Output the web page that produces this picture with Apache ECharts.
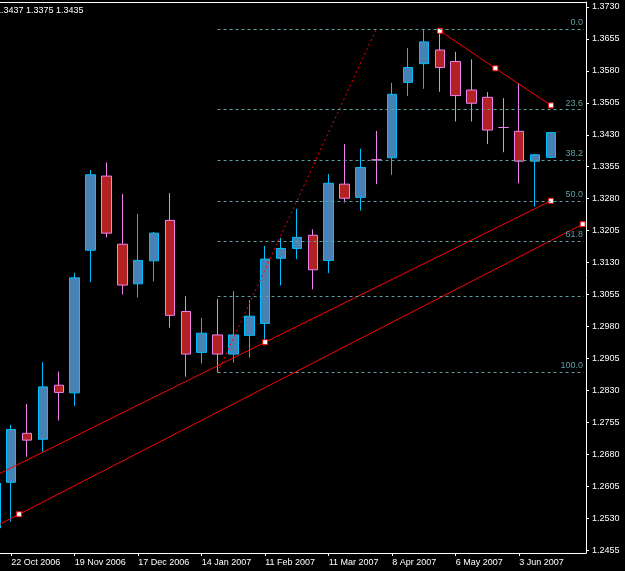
<!DOCTYPE html>
<html>
<head>
<meta charset="utf-8">
<script src="https://cdn.jsdelivr.net/npm/echarts@6/dist/echarts.min.js"></script>
<style>
html, body {margin:0; padding:0; background:#000;}
#chart {width:625px; height:571px;}
</style>
</head>
<body>
<div id="chart"></div>
<script>
// weekly bars, index 0 = week of 22 Oct 2006 (index -1 is cut by the left edge)
var weeks  = [-1,0,1,2,3,4,5,6,7,8,9,10,11,12,13,14,15,16,17,18,19,20,21,22,23,24,25,26,27,28,29,30,31,32,33,34];
var opens  = [1.2507,1.2614,1.2729,1.2715,1.2842,1.2824,1.3159,1.3333,1.3173,1.3080,1.3134,1.3229,1.3015,1.2919,1.2960,1.2915,1.2959,1.2987,1.3140,1.3163,1.3194,1.3135,1.3314,1.3283,1.3371,1.3376,1.3553,1.3597,1.3629,1.3602,1.3535,1.3518,1.3447,1.3438,1.3368,1.3377];
var closes = [1.2612,1.2738,1.2713,1.2838,1.2825,1.3094,1.3336,1.3199,1.3077,1.3135,1.3199,1.3006,1.2915,1.2964,1.2915,1.2960,1.3004,1.3138,1.3163,1.3189,1.3113,1.3316,1.3281,1.3353,1.3371,1.3525,1.3588,1.3648,1.3588,1.3522,1.3504,1.3441,1.3447,1.3368,1.3383,1.3435];
var lows   = [1.2480,1.2522,1.2674,1.2686,1.2759,1.2793,1.3084,1.3189,1.3055,1.3048,1.3086,1.2977,1.2862,1.2893,1.2872,1.2895,1.2907,1.2943,1.3076,1.3138,1.3067,1.3105,1.3271,1.3252,1.3314,1.3336,1.3521,1.3538,1.3531,1.3461,1.3461,1.3408,1.3389,1.3316,1.3261,1.3375];
var highs  = [1.2640,1.2749,1.2798,1.2896,1.2874,1.3106,1.3347,1.3365,1.3291,1.3244,1.3202,1.3293,1.3051,1.3000,1.3044,1.3063,1.3042,1.3169,1.3188,1.3256,1.3208,1.3338,1.3408,1.3397,1.3439,1.3552,1.3634,1.3678,1.3674,1.3625,1.3607,1.3530,1.3516,1.3551,1.3385,1.3437];
var dojiWeeks = [23, 31];

var tickWeeks = [0,4,8,12,16,20,24,28,32];
var tickDates = ['22 Oct 2006','19 Nov 2006','17 Dec 2006','14 Jan 2007','11 Feb 2007','11 Mar 2007','8 Apr 2007','6 May 2007','3 Jun 2007'];
var priceTicks = [1.2455,1.2530,1.2605,1.2680,1.2755,1.2830,1.2905,1.2980,1.3055,1.3130,1.3205,1.3280,1.3355,1.3430,1.3505,1.3580,1.3655,1.3730];

var fiboLine = [[13, 1.2872], [23, 1.3678]];
var fiboPrices = [1.3678, 1.3489, 1.3371, 1.3275, 1.3180, 1.3052, 1.2872];
var fiboNames = ['0.0', '23.6', '38.2', '50.0', '61.8', '', '100.0'];

var trendLow  = [[-2, 1.2611], [16, 1.2943], [34, 1.3275]];
var trendLow2 = [[-35, 1.1859], [0.5, 1.2539], [36, 1.3220]];
var trendTop  = [[27, 1.3674], [30.5, 1.3586], [34, 1.3499]];

var lastPrice = 1.3435;
var header = '1.3437 1.3375 1.3435';

var font = 'Liberation Sans';
var xMin = -0.7055, xMax = 36.208;

var candles = [];
for (var i = 0; i < weeks.length; i++) {
    var item = {value: [weeks[i], opens[i], closes[i], lows[i], highs[i]]};
    if (dojiWeeks.indexOf(weeks[i]) >= 0) {
        item.itemStyle = {borderColor: '#ee82ee', color: '#b22222'};
    }
    candles.push(item);
}

var fiboMarks = [];
for (var k = 0; k < fiboPrices.length; k++) {
    fiboMarks.push([
        {coord: [fiboLine[0][0], fiboPrices[k]], name: fiboNames[k]},
        {coord: [36.08, fiboPrices[k]]}
    ]);
}

function trendSeries(data) {
    return {
        type: 'line',
        data: data,
        symbol: 'rect',
        symbolSize: 5,
        showAllSymbol: true,
        lineStyle: {color: '#ff0000', width: 1},
        itemStyle: {color: '#ffffff', borderColor: '#ff0000', borderWidth: 1},
        z: 4
    };
}

var chart = echarts.init(document.getElementById('chart'));
var option = {
    animation: false,
    backgroundColor: '#000',
    grid: {left: 0, right: 39, top: 2, bottom: 18},
    xAxis: [{
        type: 'value',
        min: xMin,
        max: xMax,
        axisLine: {onZero: false, lineStyle: {color: '#fff', width: 1}},
        axisTick: {customValues: tickWeeks, length: 3, lineStyle: {color: '#fff'}},
        axisLabel: {
            customValues: tickWeeks,
            align: 'left',
            margin: 5,
            color: '#fff',
            fontFamily: font,
            fontSize: 9,
            formatter: function (v) {
                return tickDates[tickWeeks.indexOf(Math.round(v))] || '';
            }
        },
        splitLine: {show: false}
    }, {
        type: 'value',
        position: 'top',
        min: xMin,
        max: xMax,
        axisLine: {show: true, onZero: false, lineStyle: {color: '#fff', width: 1}},
        axisTick: {show: false},
        axisLabel: {show: false},
        splitLine: {show: false}
    }],
    yAxis: {
        type: 'value',
        position: 'right',
        min: 1.2448,
        max: 1.37417,
        axisLine: {show: true, onZero: false, lineStyle: {color: '#fff', width: 1}},
        axisTick: {show: true, customValues: priceTicks, length: 3, lineStyle: {color: '#fff'}},
        axisLabel: {
            customValues: priceTicks,
            margin: 6,
            color: '#fff',
            fontFamily: font,
            fontSize: 9,
            formatter: function (v) { return v.toFixed(4); }
        },
        splitLine: {show: false}
    },
    series: [
        {
            type: 'line',
            data: fiboLine,
            symbol: 'none',
            lineStyle: {color: '#ff0000', width: 1, type: [2, 3]},
            z: 3,
            markLine: {
                silent: true,
                symbol: ['none', 'none'],
                lineStyle: {color: '#5f9ea0', width: 1, type: [3, 3]},
                label: {
                    position: 'insideEndTop',
                    distance: [1, 2],
                    color: '#5f9ea0',
                    fontFamily: font,
                    fontSize: 9,
                    formatter: '{b}'
                },
                data: fiboMarks
            }
        },
        {
            type: 'candlestick',
            data: candles,
            barWidth: 10,
            z: 2,
            itemStyle: {
                color: '#4682b4',
                color0: '#b22222',
                borderColor: '#00bfff',
                borderColor0: '#ee82ee',
                borderWidth: 1
            },
            markLine: {
                silent: true,
                symbol: ['none', 'none'],
                lineStyle: {opacity: 0},
                label: {
                    position: 'end',
                    distance: 3,
                    backgroundColor: '#fff',
                    color: '#000',
                    padding: [1, 3, 1, 3],
                    fontFamily: font,
                    fontSize: 9,
                    formatter: lastPrice.toFixed(4)
                },
                data: [{yAxis: lastPrice}]
            }
        },
        trendSeries(trendLow),
        trendSeries(trendLow2),
        trendSeries(trendTop)
    ],
    graphic: [{
        type: 'text',
        x: -4,
        y: 6,
        style: {text: header, fill: '#fff', font: '9px ' + font}
    }]
};
chart.setOption(option);
</script>
</body>
</html>
